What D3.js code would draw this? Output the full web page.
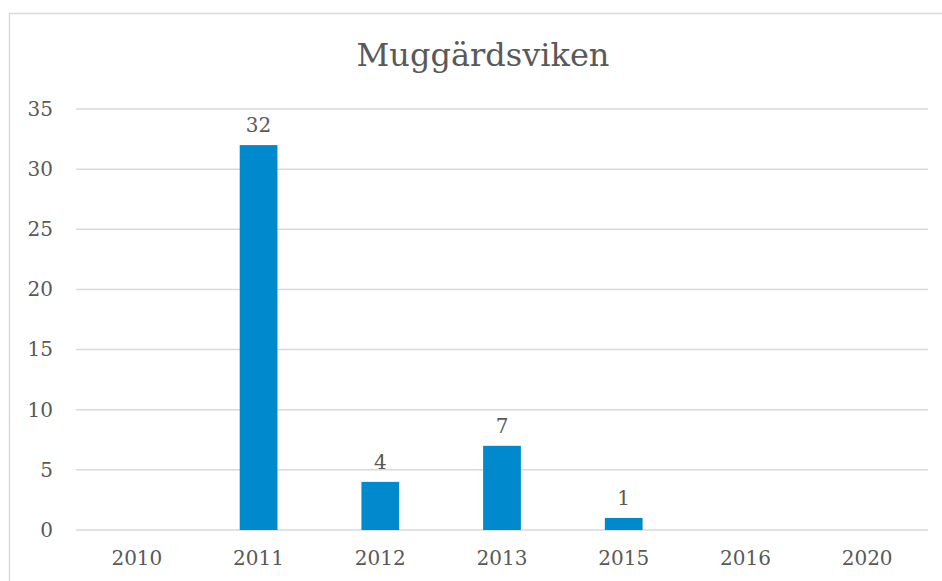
<!DOCTYPE html>
<html>
<head>
<meta charset="utf-8">
<script src="https://cdn.jsdelivr.net/npm/d3@7/dist/d3.min.js"></script>
<style>
  body { margin: 0; background: #fff; }
  text { font-family: 'DejaVu Serif', serif; fill: #595959; }
</style>
</head>
<body>
<div id="canvas"></div>
<script>
const years = ['2010', '2011', '2012', '2013', '2015', '2016', '2020'];
const counts = [0, 32, 4, 7, 1, 0, 0];
const yTicks = [0, 5, 10, 15, 20, 25, 30, 35];

const w = 942;
const h = 581;
const margin = { top: 109, right: 14, bottom: 51, left: 76 };

const svg = d3.select('#canvas')
  .append('svg')
  .attr('width', w)
  .attr('height', h);

// chart border
svg.append('rect')
  .attr('x', 9.5)
  .attr('y', 13.5)
  .attr('width', w)
  .attr('height', h)
  .attr('fill', 'none')
  .attr('stroke', '#d9d9d9')
  .attr('stroke-width', 1.5);

const x = d3.scaleBand()
  .domain(years)
  .range([margin.left, w - margin.right])
  .paddingInner(0.69)
  .paddingOuter(0.345);

const y = d3.scaleLinear()
  .domain([0, 35])
  .range([h - margin.bottom, margin.top]);

// gridlines
svg.append('g')
  .selectAll('line')
  .data(yTicks)
  .enter()
  .append('line')
  .attr('x1', margin.left)
  .attr('x2', w - margin.right)
  .attr('y1', d => y(d))
  .attr('y2', d => y(d))
  .attr('stroke', '#d9d9d9')
  .attr('stroke-width', 1.5);

const yAxis = d3.axisLeft(y).tickValues(yTicks).tickSize(0).tickPadding(23);
svg.append('g')
  .attr('transform', 'translate(' + margin.left + ',0)')
  .call(yAxis)
  .call(g => g.select('.domain').remove())
  .selectAll('text')
  .style('font-size', '20px')
  .attr('fill', '#595959');

const xAxis = d3.axisBottom(x).tickSize(0).tickPadding(21);
svg.append('g')
  .attr('transform', 'translate(0,' + (h - margin.bottom) + ')')
  .call(xAxis)
  .call(g => g.select('.domain').remove())
  .selectAll('text')
  .style('font-size', '20px')
  .attr('fill', '#595959');

// bars
svg.append('g')
  .selectAll('rect')
  .data(counts)
  .enter()
  .append('rect')
  .attr('x', (d, i) => x(years[i]))
  .attr('y', d => y(d))
  .attr('width', x.bandwidth())
  .attr('height', d => y(0) - y(d))
  .attr('fill', '#0089cc');

// value labels
svg.append('g')
  .selectAll('text')
  .data(counts.map((d, i) => ({ year: years[i], v: d })).filter(d => d.v > 0))
  .enter()
  .append('text')
  .attr('x', d => x(d.year) + x.bandwidth() / 2)
  .attr('y', d => y(d.v) - 13)
  .attr('text-anchor', 'middle')
  .style('font-size', '20px')
  .attr('fill', '#404040')
  .text(d => d.v);

svg.append('text')
  .attr('x', 483)
  .attr('y', 66)
  .attr('text-anchor', 'middle')
  .style('font-size', '32px')
  .text('Muggärdsviken');
</script>
</body>
</html>
